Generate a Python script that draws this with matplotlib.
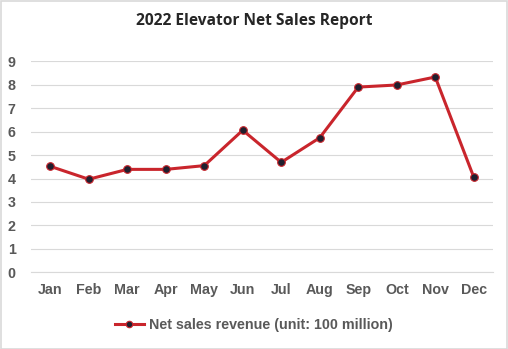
import matplotlib
matplotlib.use("Agg")
import matplotlib.pyplot as plt
from matplotlib.patches import Rectangle

months = ["Jan", "Feb", "Mar", "Apr", "May", "Jun", "Jul", "Aug", "Sep", "Oct", "Nov", "Dec"]
revenue = [4.52, 3.97, 4.39, 4.39, 4.55, 6.06, 4.69, 5.74, 7.90, 7.99, 8.33, 4.06]
yticks = list(range(0, 10))

fig = plt.figure(figsize=(5.08, 3.49), dpi=100)
fig.patches.append(Rectangle((0.001, 0.001), 0.997, 0.996, transform=fig.transFigure,
                             fill=False, edgecolor="#D9D9D9", linewidth=1.2))
ax = fig.add_axes([31/508, 1-272.3/349, (493-31)/508, (272.3-61.3)/349])

x = list(range(len(months)))
ax.plot(x, revenue, color="#C9252C", linewidth=2.2, marker="o", markersize=5.5,
        markerfacecolor="#1F1F2E", markeredgecolor="#C9252C", markeredgewidth=0.8,
        label="Net sales revenue (unit: 100 million)", zorder=3)

ax.set_xlim(-0.5, len(months) - 0.5)
ax.set_ylim(0, 9)
ax.set_yticks(yticks)
ax.set_xticks(x)
ax.set_xticklabels(months)
ax.grid(axis="y", color="#D9D9D9", linewidth=0.8)
ax.set_axisbelow(True)
for s in ["top", "right", "left"]:
    ax.spines[s].set_visible(False)
ax.spines["bottom"].set_color("#D9D9D9")
ax.spines["bottom"].set_linewidth(0.8)
ax.tick_params(length=0, colors="#595959", labelsize=10.3)
ax.tick_params(axis="x", pad=8)
ax.tick_params(axis="y", pad=11)
for lbl in ax.get_xticklabels() + ax.get_yticklabels():
    lbl.set_fontweight("bold")
    lbl.set_fontfamily("Liberation Sans")

fig.text(0.5, 1-21/349, "2022 Elevator Net Sales Report", ha="center", va="center",
         fontsize=11.2, fontweight="bold", color="#262626", family="Open Sans")

leg = fig.legend(loc="center", bbox_to_anchor=(0.5, 1-325/349), frameon=False,
                 prop={"family": "Liberation Sans", "weight": "bold", "size": 10.3},
                 handlelength=2.0, handletextpad=0.4, markerscale=0.85)
for t in leg.get_texts():
    t.set_color("#595959")

fig.savefig("out.png", dpi=100)
